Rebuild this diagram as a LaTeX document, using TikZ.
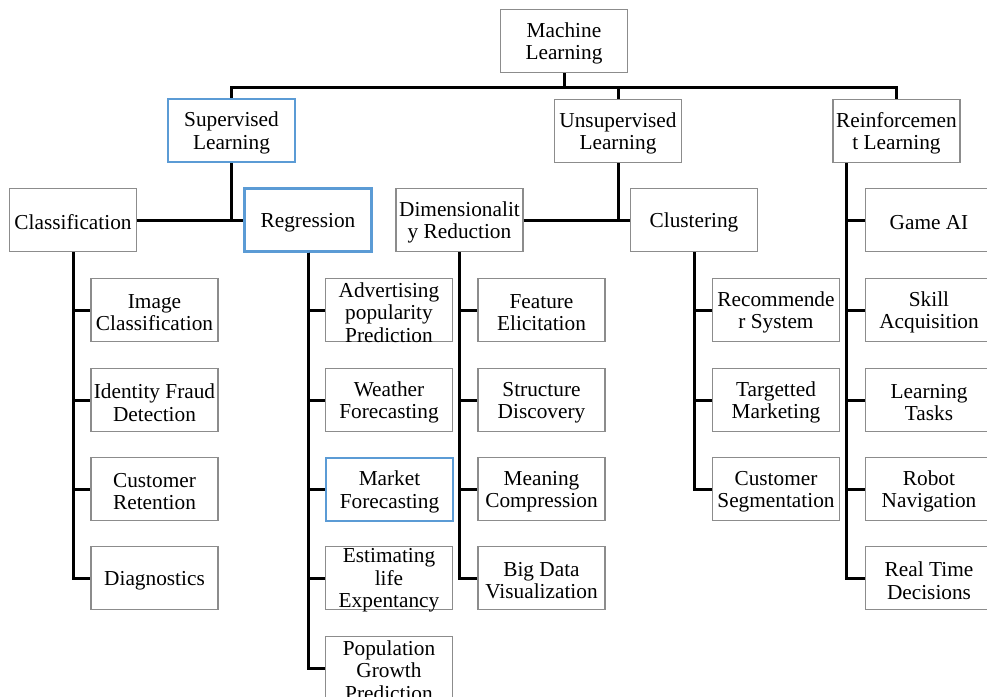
\documentclass[tikz,border=0pt]{standalone}
\usepackage{fontspec}
\setmainfont{Liberation Serif}
\definecolor{boxgray}{HTML}{8C8C8C}
\definecolor{boxblue}{HTML}{5B9BD5}
\newcommand{\bxt}[1]{\parbox[c][40pt][c]{127pt}{\centering\vspace*{5pt}#1}}
\tikzset{
  box/.style={draw=boxgray, line width=1.3pt, fill=white, minimum width=127pt, minimum height=63pt, inner sep=0pt, font=\fontsize{21.3}{22.5}\selectfont},
  bluebox/.style={box, draw=boxblue, line width=2.3pt},
  conn/.style={draw=black, line width=3pt},
}
\begin{document}
\begin{tikzpicture}[x=1pt,y=-1pt]
\useasboundingbox (0,0) rectangle (987,696);
\clip (0,0) rectangle (987,696);
% level 0-1
\node[box] (ml) at (564,41) {\bxt{Machine\\Learning}};
\node[bluebox] (sl) at (231.5,130.5) {\bxt{Supervised\\Learning}};
\node[box] (ul) at (618,131) {\bxt{Unsupervised\\Learning}};
\node[box] (rl) at (896.5,131) {\bxt{Reinforcemen\\t Learning}};
% level 2
\node[box] (cls) at (73,220) {\bxt{Classification}};
\node[bluebox] (reg) at (308,220) {\bxt{Regression}};
\node[box] (dr) at (459.5,220) {\bxt{Dimensionalit\\y Reduction}};
\node[box] (clu) at (694,220) {\bxt{Clustering}};
\node[box] (game) at (929,220) {\bxt{Game AI}};
% classification children
\node[box] (ic) at (154.5,310) {\bxt{Image\\Classification}};
\node[box] (ifd) at (154.5,400) {\bxt{Identity Fraud\\Detection}};
\node[box] (cr) at (154.5,489) {\bxt{Customer\\Retention}};
\node[box] (diag) at (154.5,578) {\bxt{Diagnostics}};
% regression children
\node[box] (adv) at (389,310) {\bxt{Advertising\\popularity\\Prediction}};
\node[box] (wf) at (389,400) {\bxt{Weather\\Forecasting}};
\node[bluebox] (mf) at (389.5,489.5) {\bxt{Market\\Forecasting}};
\node[box] (ele) at (389,578) {\bxt{Estimating\\life\\Expentancy}};
\node[box] (pgp) at (389,668) {\bxt{Population\\Growth\\Prediction}};
% dimensionality reduction children
\node[box] (fe) at (541.5,310) {\bxt{Feature\\Elicitation}};
\node[box] (sd) at (541.5,400) {\bxt{Structure\\Discovery}};
\node[box] (mc) at (541.5,489) {\bxt{Meaning\\Compression}};
\node[box] (bdv) at (541.5,578) {\bxt{Big Data\\Visualization}};
% clustering children
\node[box] (rs) at (776,310) {\bxt{Recommende\\r System}};
\node[box] (tm) at (776,400) {\bxt{Targetted\\Marketing}};
\node[box] (cs) at (776,489) {\bxt{Customer\\Segmentation}};
% reinforcement children
\node[box] (sa) at (929,310) {\bxt{Skill\\Acquisition}};
\node[box] (lt) at (929,400) {\bxt{Learning\\Tasks}};
\node[box] (rn) at (929,489) {\bxt{Robot\\Navigation}};
\node[box] (rtd) at (929,578) {\bxt{Real Time\\Decisions}};
% connectors
\coordinate (bus) at (564,87);
\draw[conn] (ml.south) -- (bus);
\draw[conn] (sl.north) |- (bus) -| (rl.north);
\draw[conn] (ul.north) -- (ul.north |- bus);
\draw[conn] (sl.south) -- (sl.south |- cls.east);
\draw[conn] (cls.east) -- (reg.west);
\draw[conn] (ul.south) -- (ul.south |- dr.east);
\draw[conn] (dr.east) -- (clu.west);
\coordinate (rlt) at ([xshift=14pt]rl.south west);
\foreach \c in {game,sa,lt,rn,rtd} \draw[conn] (rlt) |- (\c.west);
\foreach \c in {ic,ifd,cr,diag} \draw[conn] (cls.south) |- (\c.west);
\foreach \c in {adv,wf,mf,ele,pgp} \draw[conn] (reg.south) |- (\c.west);
\foreach \c in {fe,sd,mc,bdv} \draw[conn] (dr.south) |- (\c.west);
\foreach \c in {rs,tm,cs} \draw[conn] (clu.south) |- (\c.west);
\end{tikzpicture}
\end{document}
